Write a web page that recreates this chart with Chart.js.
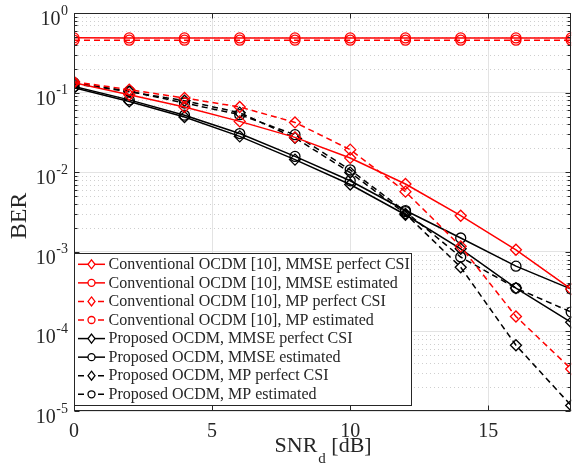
<!DOCTYPE html>
<html>
<head>
<meta charset="utf-8">
<script src="https://cdn.jsdelivr.net/npm/chart.js@4.4.1/dist/chart.umd.min.js"></script>
<style>
  html, body { margin: 0; padding: 0; background: #fff; }
  #wrap { width: 578px; height: 467px; position: relative; }
</style>
</head>
<body>
<div id="wrap"><canvas id="myChart" width="578" height="467"></canvas></div>
<script>
// SNR_d values on the x axis [dB]
var snr = [0, 2, 4, 6, 8, 10, 12, 14, 16, 18];
var xTicks = [0, 5, 10, 15];
var yExponents = [0, -1, -2, -3, -4, -5];

// BER curves
var convMmsePerfect = [0.133, 0.094, 0.066, 0.0435, 0.0274, 0.0151, 0.0071, 0.00284, 0.00106, 0.00034];
var convMmseEst     = [0.487, 0.486, 0.486, 0.486, 0.486, 0.486, 0.486, 0.486, 0.486, 0.486];
var convMpPerfect   = [0.137, 0.109, 0.0855, 0.066, 0.0422, 0.0192, 0.0057, 0.00117, 0.000154, 0.0000337];
var convMpEst       = [0.455, 0.455, 0.455, 0.455, 0.455, 0.455, 0.455, 0.455, 0.455, 0.455];
var propMmsePerfect = [0.115, 0.0775, 0.0494, 0.0282, 0.0144, 0.007, 0.00292, 0.00109, 0.00035, 0.00013];
var propMmseEst     = [0.119, 0.081, 0.052, 0.0306, 0.0158, 0.0078, 0.0033, 0.00149, 0.00066, 0.00034];
var propMpPerfect   = [0.129, 0.1025, 0.079, 0.056, 0.027, 0.0099, 0.003, 0.00064, 0.000067, 0.0000117];
var propMpEst       = [0.133, 0.104, 0.074, 0.0528, 0.0296, 0.0107, 0.0032, 0.00086, 0.00035, 0.000175];

var labels = [
  'Conventional OCDM [10], MMSE perfect CSI',
  'Conventional OCDM [10], MMSE estimated',
  'Conventional OCDM [10], MP perfect CSI',
  'Conventional OCDM [10], MP estimated',
  'Proposed OCDM, MMSE perfect CSI',
  'Proposed OCDM, MMSE estimated',
  'Proposed OCDM, MP perfect CSI',
  'Proposed OCDM, MP estimated'
];
var series = [convMmsePerfect, convMmseEst, convMpPerfect, convMpEst,
              propMmsePerfect, propMmseEst, propMpPerfect, propMpEst];
var colors = ['#ff0000', '#ff0000', '#ff0000', '#ff0000', '#000000', '#000000', '#000000', '#000000'];
var dashed = [false, false, true, true, false, false, true, true];
var markers = ['rectRot', 'circle', 'rectRot', 'circle', 'rectRot', 'circle', 'rectRot', 'circle'];

var SERIF = '"Liberation Serif", "Times New Roman", serif';
var AXIS = '#262626';

var datasets = series.map(function(vals, i) {
  return {
    label: labels[i],
    data: snr.map(function(s, j) { return {x: s, y: vals[j]}; }),
    borderColor: colors[i],
    backgroundColor: 'rgba(0,0,0,0)',
    borderWidth: 1.5,
    borderDash: dashed[i] ? [6, 4] : [],
    pointStyle: markers[i],
    pointRadius: markers[i] === 'circle' ? 5 : 5.5,
    pointBorderWidth: 1.3,
    pointBackgroundColor: 'rgba(0,0,0,0)',
    pointBorderColor: colors[i],
    tension: 0
  };
});

var isDecade = function(v) {
  var l = Math.log10(v);
  return Math.abs(l - Math.round(l)) < 1e-9;
};

var decor = {
  id: 'decor',
  beforeDatasetsDraw: function(chart) {
    var ctx = chart.ctx, a = chart.chartArea, y = chart.scales.y;
    ctx.save();
    ctx.strokeStyle = '#cfcfcf';
    ctx.lineWidth = 1;
    ctx.setLineDash([1, 3]);
    for (var e = -5; e < 0; e++) {
      for (var m = 2; m <= 9; m++) {
        var py = Math.round(y.getPixelForValue(m * Math.pow(10, e))) + 0.5;
        ctx.beginPath(); ctx.moveTo(a.left, py); ctx.lineTo(a.right, py); ctx.stroke();
      }
    }
    ctx.restore();
  },
  afterDatasetsDraw: function(chart) {
    var ctx = chart.ctx, a = chart.chartArea, x = chart.scales.x, y = chart.scales.y;
    ctx.save();
    // axes box
    ctx.strokeStyle = AXIS;
    ctx.lineWidth = 1;
    ctx.setLineDash([]);
    var L = Math.round(a.left) + 0.5, R = Math.round(a.right) - 0.5;
    var T = Math.round(a.top) + 0.5, B = Math.round(a.bottom) - 0.5;
    ctx.strokeRect(L, T, R - L, B - T);
    // inner ticks on y
    ctx.beginPath();
    for (var e = -5; e <= 0; e++) {
      for (var m = 1; m <= 9; m++) {
        if (e === 0 && m > 1) break;
        var py = Math.round(y.getPixelForValue(m * Math.pow(10, e))) + 0.5;
        var len = m === 1 ? 5 : 3;
        ctx.moveTo(L, py); ctx.lineTo(L + len, py);
        ctx.moveTo(R, py); ctx.lineTo(R - len, py);
      }
    }
    // inner ticks on x
    xTicks.forEach(function(t) {
      var px = Math.round(x.getPixelForValue(t)) + 0.5;
      ctx.moveTo(px, B); ctx.lineTo(px, B - 5);
      ctx.moveTo(px, T); ctx.lineTo(px, T + 5);
    });
    ctx.stroke();

    // y tick labels 10^e
    ctx.fillStyle = AXIS;
    ctx.textBaseline = 'alphabetic';
    yExponents.forEach(function(e) {
      var py = y.getPixelForValue(Math.pow(10, e));
      var exp = String(e);
      ctx.font = '14px ' + SERIF;
      var we = ctx.measureText(exp).width;
      ctx.textAlign = 'left';
      ctx.fillText(exp, 68 - we, py + 1.5);
      ctx.font = '20px ' + SERIF;
      var wb = ctx.measureText('10').width;
      ctx.fillText('10', 68 - we - wb - 0.5, py + 12);
    });

    // x axis title SNR_d [dB]
    ctx.font = '22px ' + SERIF;
    var w1 = ctx.measureText('SNR').width;
    var w3 = ctx.measureText(' [dB]').width;
    ctx.font = '15px ' + SERIF;
    var w2 = ctx.measureText('d').width;
    var cx = (a.left + a.right) / 2;
    var sx = cx - (w1 + w2 + w3) / 2;
    ctx.font = '22px ' + SERIF;
    ctx.fillText('SNR', sx, 452);
    ctx.font = '15px ' + SERIF;
    ctx.fillText('d', sx + w1 + 1, 463);
    ctx.font = '22px ' + SERIF;
    ctx.fillText(' [dB]', sx + w1 + w2 + 1, 452);

    // y axis title
    ctx.save();
    ctx.translate(26, 216);
    ctx.rotate(-Math.PI / 2);
    ctx.textAlign = 'center';
    ctx.font = '24px ' + SERIF;
    ctx.fillText('BER', 0, 0);
    ctx.restore();

    // legend box
    var lx0 = L, ly0 = 253.5, lx1 = 411.5, ly1 = 405.5;
    ctx.fillStyle = '#ffffff';
    ctx.fillRect(lx0, ly0, lx1 - lx0, ly1 - ly0);
    ctx.strokeStyle = AXIS;
    ctx.lineWidth = 1;
    ctx.strokeRect(lx0, ly0, lx1 - lx0, ly1 - ly0);
    chart.data.datasets.forEach(function(ds, i) {
      var cy = 264.3 + i * 18.57;
      ctx.strokeStyle = ds.borderColor;
      ctx.lineWidth = 1.5;
      ctx.setLineDash(ds.borderDash);
      ctx.beginPath(); ctx.moveTo(78, cy); ctx.lineTo(105, cy); ctx.stroke();
      ctx.setLineDash([]);
      ctx.lineWidth = 1.3;
      ctx.beginPath();
      if (ds.pointStyle === 'circle') {
        ctx.arc(91.5, cy, 3.5, 0, Math.PI * 2);
      } else {
        ctx.moveTo(91.5, cy - 4.5); ctx.lineTo(95, cy); ctx.lineTo(91.5, cy + 4.5); ctx.lineTo(88, cy); ctx.closePath();
      }
      ctx.fillStyle = '#ffffff';
      ctx.fill();
      ctx.stroke();
      ctx.fillStyle = AXIS;
      ctx.font = '16px ' + SERIF;
      ctx.textAlign = 'left';
      ctx.textBaseline = 'middle';
      ctx.fillText(ds.label, 108.5, cy + 0.5);
    });
    ctx.restore();
  }
};

var ctx = document.getElementById('myChart');
var myChart = new Chart(ctx, {
  type: 'line',
  data: { datasets: datasets },
  options: {
    responsive: false,
    animation: false,
    devicePixelRatio: 1,
    layout: { padding: { top: 13, right: 3, left: 0, bottom: 0 } },
    plugins: { legend: { display: false }, tooltip: { enabled: false } },
    scales: {
      x: {
        type: 'linear',
        min: 0,
        max: 18,
        afterBuildTicks: function(scale) {
          scale.ticks = xTicks.map(function(v) { return {value: v}; });
        },
        afterFit: function(scale) { scale.height = 56; },
        border: { display: false },
        grid: { color: '#e3e3e3', lineWidth: 1, drawTicks: false },
        ticks: {
          color: AXIS,
          font: { family: SERIF, size: 20 },
          padding: 9,
          maxRotation: 0
        }
      },
      y: {
        type: 'logarithmic',
        min: 1e-5,
        max: 1,
        afterFit: function(scale) { scale.width = 74; },
        border: { display: false },
        grid: {
          drawTicks: false,
          color: function(c) {
            return c.tick && isDecade(c.tick.value) ? '#e3e3e3' : 'rgba(0,0,0,0)';
          }
        },
        ticks: { display: false }
      }
    }
  },
  plugins: [decor]
});
</script>
</body>
</html>
